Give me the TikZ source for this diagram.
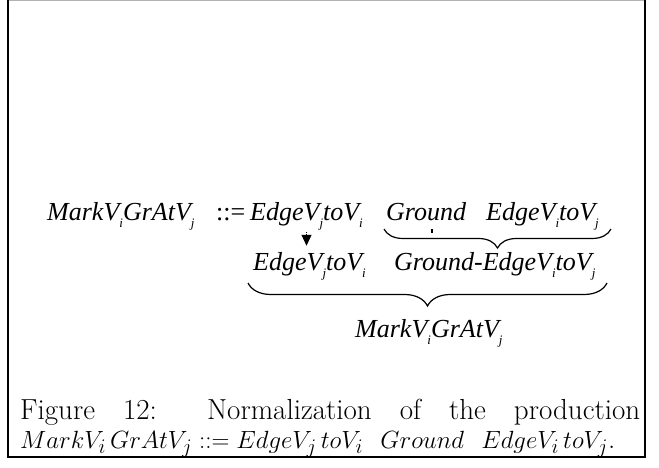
\documentclass[tikz,border=0pt]{standalone}
\usepackage{fontspec}
\usetikzlibrary{decorations.pathreplacing,arrows.meta}
\newfontfamily\diagfont{Liberation Serif}
\newcommand\sbs[1]{\raisebox{-0.3em}{\fontsize{13}{13}\selectfont #1}}
\begin{document}
\begin{tikzpicture}[x=1pt,y=-1pt,
  term/.style={anchor=base west, inner sep=0pt, font=\diagfont\itshape\fontsize{26}{30}\selectfont},
  brc/.style={decorate, decoration={brace, amplitude=#1, mirror}, line width=1.2pt},
  frameline/.style={line width=1.4pt},
  flow/.style={densely dotted, line width=1.2pt, -{Triangle[width=10pt,length=11pt]}}]
\useasboundingbox (0,0) rectangle (659,468);
% frame
\draw[gray!60, line width=0.6pt] (8,0.5) -- (645,0.5);
\draw[frameline] (8,0) -- (8,457) -- (645,457) -- (645,0);
% line 1
\node[term] (m1) at (47,220) {MarkV\sbs{i}GrAtV\sbs{j}};
\node[term, font=\diagfont\fontsize{26}{30}\selectfont] (eq) at (216,220) {::=};
\node[term] (e1) at (250,220) {EdgeV\sbs{j}toV\sbs{i}};
\node[term] (g1) at (386,220) {Ground};
\node[term] (e2) at (486,220) {EdgeV\sbs{i}toV\sbs{j}};
% line 2
\node[term] (e3) at (253,270) {EdgeV\sbs{j}toV\sbs{i}};
\node[term] (ge) at (394,270) {Ground-EdgeV\sbs{i}toV\sbs{j}};
% line 3
\node[term] (m2) at (355,337) {MarkV\sbs{i}GrAtV\sbs{j}};
% braces
\draw[brc=19pt] (384,229) -- (611,229);
\draw[brc=23pt] (248,283) -- (607,283);
% arrow
\draw[flow, shorten <=1.5pt, shorten >=6pt] (e1.south) -- (e1.south |- e3.north);
\fill (431,229) rectangle (432.5,233);
% caption
\node[anchor=north west, inner sep=0pt, text width=620pt, align=justify,
      font=\fontsize{29}{29}\selectfont] (cap) at (20,399)
  {Figure 12: Normalization of the production\linebreak
   $MarkV_i\,GrAtV_j\;{::=}\;EdgeV_j\,toV_i\hspace{0.6em}Ground\hspace{0.6em}EdgeV_i\,toV_j$.};
\end{tikzpicture}
\end{document}
